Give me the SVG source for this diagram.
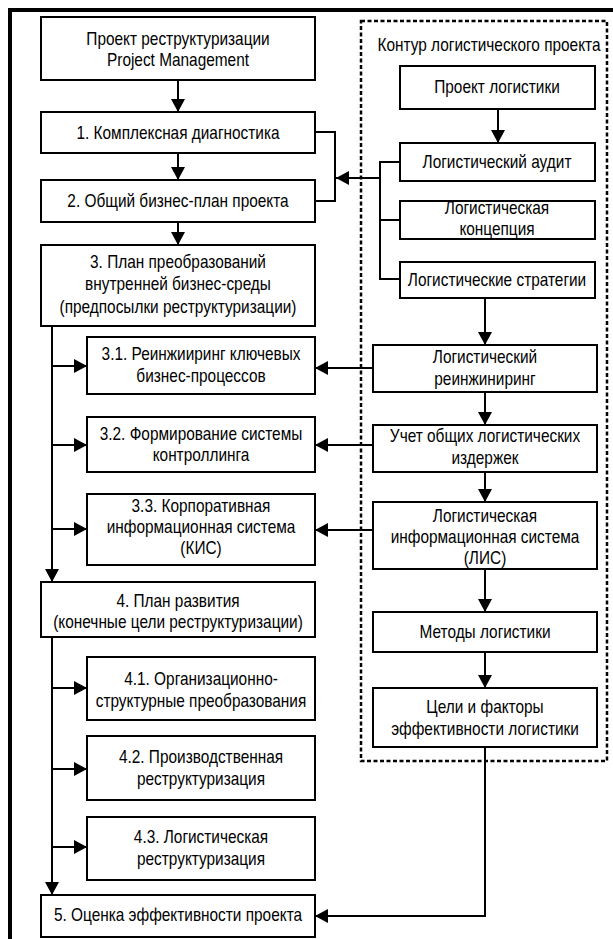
<svg xmlns="http://www.w3.org/2000/svg" width="613" height="939" viewBox="0 0 613 939">
<style>
  .box { fill: #fff; stroke: #000; stroke-width: 2; }
  .ln { fill: none; stroke: #000; stroke-width: 2; }
  .arr { fill: none; stroke: #000; stroke-width: 2; marker-end: url(#ah); }
  text { font-family: "Liberation Sans", Arial, sans-serif; font-size: 17.5px; fill: #000; text-anchor: middle; }
</style>
<defs>
  <marker id="ah" markerUnits="userSpaceOnUse" markerWidth="14" markerHeight="14" refX="13" refY="7" orient="auto">
    <path d="M0,0 L13,7 L0,14 z" fill="#000"/>
  </marker>
</defs>
<rect width="613" height="939" fill="#fff"/>
<path d="M10,939 V10 H613" fill="none" stroke="#000" stroke-width="4"/>
<g id="contour">
  <rect x="361" y="21" width="246" height="740" fill="none" stroke="#000" stroke-width="2.5" stroke-dasharray="4 2.5"/>
  <g transform="translate(489,0) scale(0.88,1)"><text x="0" y="51">Контур логистического проекта</text></g>
</g>
<g id="connectors">
  <path class="arr" d="M178,80 V112"/>
  <path class="arr" d="M178,153 V180"/>
  <path class="arr" d="M178,222 V245"/>
  <path class="ln" d="M315,132 H335 V201 H315"/>
  <path class="ln" d="M400,162 H380 V279 H400 M380,220 H400"/>
  <path class="arr" d="M380,178 H336"/>
  <path class="arr" d="M498,109 V143"/>
  <path class="arr" d="M485,298 V345"/>
  <path class="arr" d="M485,392 V425"/>
  <path class="arr" d="M485,472 V502"/>
  <path class="arr" d="M485,569 V612"/>
  <path class="arr" d="M485,652 V688"/>
  <path class="arr" d="M373,368 H315"/>
  <path class="arr" d="M373,445 H315"/>
  <path class="arr" d="M373,530 H315"/>
  <path class="arr" d="M52,326 V582"/>
  <path class="arr" d="M52,366 H87"/>
  <path class="arr" d="M52,445 H87"/>
  <path class="arr" d="M52,529 H87"/>
  <path class="arr" d="M52,637 V895"/>
  <path class="arr" d="M52,688 H87"/>
  <path class="arr" d="M52,769 H87"/>
  <path class="arr" d="M52,847 H87"/>
  <path class="arr" d="M485,747 V916 H315"/>
</g>
<g id="n0"><rect class="box" x="41" y="17" width="274" height="63"/><g transform="translate(178,0) scale(0.88,1)"><text x="0" y="45">Проект реструктуризации</text><text x="0" y="66">Project Management</text></g></g>
<g id="n1"><rect class="box" x="41" y="112" width="274" height="41"/><g transform="translate(178,0) scale(0.88,1)"><text x="0" y="139">1. Комплексная диагностика</text></g></g>
<g id="n2"><rect class="box" x="41" y="180" width="274" height="42"/><g transform="translate(178,0) scale(0.88,1)"><text x="0" y="207">2. Общий бизнес-план проекта</text></g></g>
<g id="n3"><rect class="box" x="41" y="245" width="274" height="81"/><g transform="translate(178,0) scale(0.88,1)"><text x="0" y="268">3. План преобразований</text><text x="0" y="290">внутренней бизнес-среды</text><text x="0" y="313">(предпосылки реструктуризации)</text></g></g>
<g id="n31"><rect class="box" x="87" y="337" width="228" height="57"/><g transform="translate(201,0) scale(0.88,1)"><text x="0" y="360">3.1. Реинжииринг ключевых</text><text x="0" y="382">бизнес-процессов</text></g></g>
<g id="n32"><rect class="box" x="87" y="417" width="228" height="55"/><g transform="translate(201,0) scale(0.88,1)"><text x="0" y="440">3.2. Формирование системы</text><text x="0" y="461">контроллинга</text></g></g>
<g id="n33"><rect class="box" x="87" y="494" width="228" height="71"/><g transform="translate(201,0) scale(0.88,1)"><text x="0" y="512">3.3. Корпоративная</text><text x="0" y="533">информационная система</text><text x="0" y="554">(КИС)</text></g></g>
<g id="n4"><rect class="box" x="41" y="582" width="274" height="55"/><g transform="translate(178,0) scale(0.88,1)"><text x="0" y="607">4. План развития</text><text x="0" y="628">(конечные цели реструктуризации)</text></g></g>
<g id="n41"><rect class="box" x="87" y="657" width="228" height="63"/><g transform="translate(201,0) scale(0.88,1)"><text x="0" y="685">4.1. Организационно-</text><text x="0" y="707">структурные преобразования</text></g></g>
<g id="n42"><rect class="box" x="87" y="736" width="228" height="64"/><g transform="translate(201,0) scale(0.88,1)"><text x="0" y="763">4.2. Производственная</text><text x="0" y="785">реструктуризация</text></g></g>
<g id="n43"><rect class="box" x="87" y="817" width="228" height="63"/><g transform="translate(201,0) scale(0.88,1)"><text x="0" y="843">4.3. Логистическая</text><text x="0" y="865">реструктуризация</text></g></g>
<g id="n5"><rect class="box" x="41" y="895" width="274" height="42"/><g transform="translate(178,0) scale(0.88,1)"><text x="0" y="921">5. Оценка эффективности проекта</text></g></g>
<g id="r1"><rect class="box" x="400" y="66" width="195" height="43"/><g transform="translate(497,0) scale(0.88,1)"><text x="0" y="93">Проект логистики</text></g></g>
<g id="r2"><rect class="box" x="400" y="143" width="195" height="38"/><g transform="translate(497,0) scale(0.88,1)"><text x="0" y="168">Логистический аудит</text></g></g>
<g id="r3"><rect class="box" x="400" y="201" width="195" height="38"/><g transform="translate(497,0) scale(0.88,1)"><text x="0" y="214">Логистическая</text><text x="0" y="235">концепция</text></g></g>
<g id="r4"><rect class="box" x="400" y="262" width="195" height="36"/><g transform="translate(497,0) scale(0.88,1)"><text x="0" y="286">Логистические стратегии</text></g></g>
<g id="r5"><rect class="box" x="373" y="345" width="224" height="47"/><g transform="translate(485,0) scale(0.88,1)"><text x="0" y="363">Логистический</text><text x="0" y="385">реинжиниринг</text></g></g>
<g id="r6"><rect class="box" x="373" y="425" width="224" height="47"/><g transform="translate(485,0) scale(0.88,1)"><text x="0" y="442">Учет общих логистических</text><text x="0" y="464">издержек</text></g></g>
<g id="r7"><rect class="box" x="373" y="502" width="224" height="67"/><g transform="translate(485,0) scale(0.88,1)"><text x="0" y="522">Логистическая</text><text x="0" y="543">информационная система</text><text x="0" y="564">(ЛИС)</text></g></g>
<g id="r8"><rect class="box" x="373" y="612" width="224" height="40"/><g transform="translate(485,0) scale(0.88,1)"><text x="0" y="638">Методы логистики</text></g></g>
<g id="r9"><rect class="box" x="373" y="688" width="224" height="59"/><g transform="translate(485,0) scale(0.88,1)"><text x="0" y="713">Цели и факторы</text><text x="0" y="735">эффективности логистики</text></g></g>
</svg>
